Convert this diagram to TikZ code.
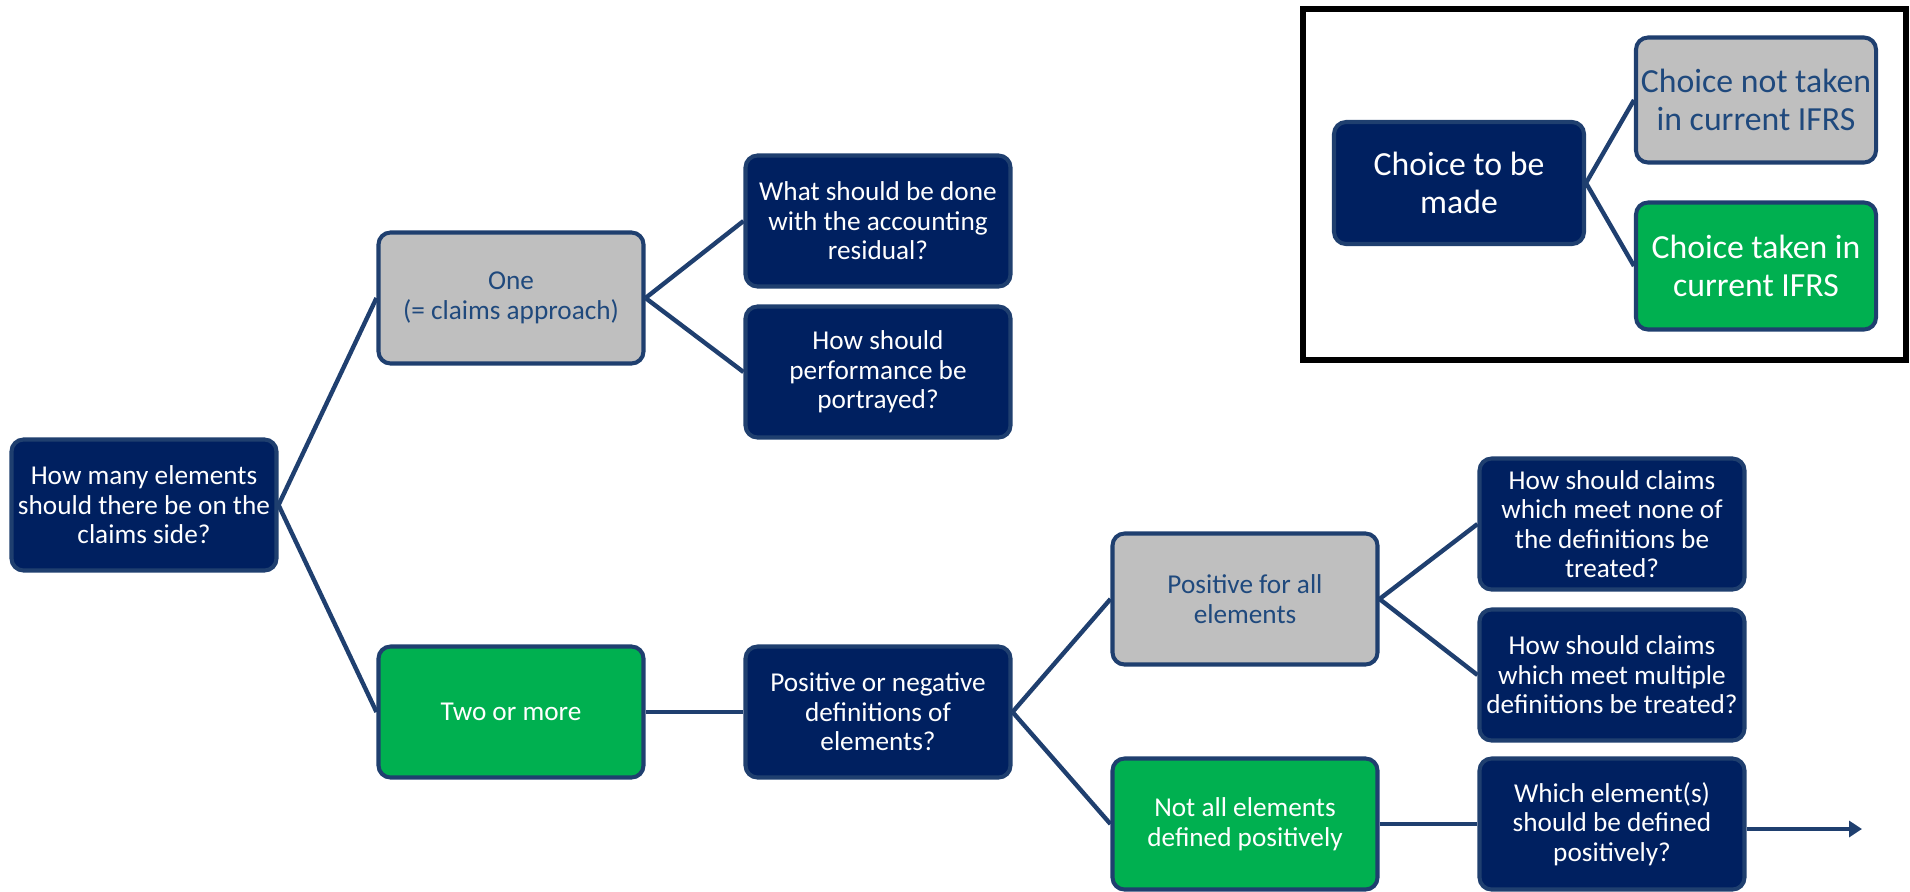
\documentclass[tikz,border=0pt]{standalone}
\usepackage{fontspec}
\setmainfont{Carlito}
\usepackage{xcolor}
\usepackage{tikz}
\usetikzlibrary{arrows.meta, positioning}
\definecolor{navy}{HTML}{002060}
\definecolor{edgeblue}{HTML}{1F3F6F}
\definecolor{greyfill}{HTML}{BFBFBF}
\definecolor{greytext}{HTML}{1F497D}
\definecolor{greenfill}{HTML}{00B050}
\tikzset{
  font=\fontsize{15.5}{16.8}\selectfont,          % body text
  box/.style       = {rectangle, rounded corners=2.4mm, draw=edgeblue,
                      line width=2.3pt, align=center, inner sep=1pt,
                      minimum width=5.3cm, minimum height=2.62cm},
  question/.style  = {box, fill=navy, text=white},
  nottaken/.style  = {box, fill=greyfill, text=greytext},
  taken/.style     = {box, fill=greenfill, text=white},
  legendtext/.style= {font=\fontsize{19.2}{22}\selectfont},
  link/.style      = {draw=edgeblue, line width=2.5pt},
  arrow/.style     = {link, -{Triangle[length=2.6mm, width=3.2mm]}}
}

\begin{document}
\begin{tikzpicture}[x=0.2mm, y=-0.2mm]
  \useasboundingbox (0,0) rectangle (1910,891);
  % main tree
  \node[question] (root)   at (144,505)  {How many elements\\should there be on the\\claims side?};
  \node[nottaken] (one)    at (511,298)  {One\\(= claims approach)};
  \node[taken]    (two)    at (511,712)  {Two or more};
  \node[question] (resid)  at (878,221)  {What should be done\\with the accounting\\residual?};
  \node[question] (perf)   at (878,372)  {How should\\performance be\\portrayed?};
  \node[question] (posneg) at (878,712)  {Positive or negative\\definitions of\\elements?};
  \node[nottaken] (posall) at (1245,599) {Positive for all\\elements};
  \node[taken]    (notall) at (1245,824) {Not all elements\\defined positively};
  \node[question] (none)   at (1612,524) {How should claims\\which meet none of\\the definitions be\\treated?};
  \node[question] (multi)  at (1612,675) {How should claims\\which meet multiple\\definitions be treated?};
  \node[question] (which)  at (1612,824) {Which element(s)\\should be defined\\positively?};
  \coordinate (out) at (1862,829);
  % connectors
  \draw[link] (root.east) -- (one.west);
  \draw[link] (root.east) -- (two.west);
  \draw[link] (one.east) -- (resid.west);
  \draw[link] (one.east) -- (perf.west);
  \draw[link] (two.east) -- (posneg.west);
  \draw[link] (posneg.east) -- (posall.west);
  \draw[link] (posneg.east) -- (notall.west);
  \draw[link] (posall.east) -- (none.west);
  \draw[link] (posall.east) -- (multi.west);
  \draw[link] (notall.east) -- (which.west);
  \draw[arrow] (which.east |- out) -- (out);
  % legend
  \draw[line width=3.4pt] (1303,9) rectangle (1906,360);
  \node[question, legendtext, minimum width=5cm, minimum height=2.44cm] (choice) at (1459,183) {Choice to be\\made};
  \node[nottaken, legendtext, minimum width=4.8cm, minimum height=2.5cm] (lgrey) at (1756,100) {Choice not taken\\in current IFRS};
  \node[taken, legendtext, minimum width=4.8cm, minimum height=2.54cm] (lgreen) at (1756,266) {Choice taken in\\current IFRS};
  \draw[link] (choice.east) -- (lgrey.west);
  \draw[link] (choice.east) -- (lgreen.west);
\end{tikzpicture}
\end{document}
